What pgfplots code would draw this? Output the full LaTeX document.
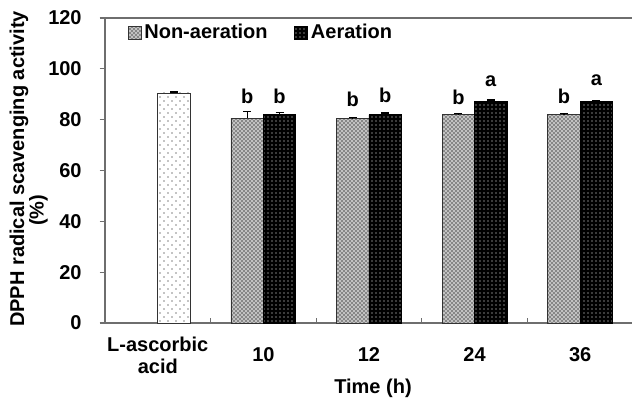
\documentclass[border=0pt]{standalone}
\usepackage{fontspec}
\setmainfont{Liberation Sans}
\usepackage{pgfplots}
\pgfplotsset{compat=1.18}
\usepackage{pgfplotstable}
\usetikzlibrary{patterns}
\pgfdeclarepatternformonly{sparse dots}{\pgfqpoint{-1pt}{-1pt}}{\pgfqpoint{7pt}{7pt}}{\pgfqpoint{6pt}{6pt}}{%
  \pgfpathcircle{\pgfqpoint{0pt}{0pt}}{0.55pt}%
  \pgfpathcircle{\pgfqpoint{3pt}{3pt}}{0.55pt}%
  \pgfusepath{fill}}
\pgfdeclarepatternformonly{checker dots}{\pgfqpoint{-1pt}{-1pt}}{\pgfqpoint{4pt}{4pt}}{\pgfqpoint{3pt}{3pt}}{%
  \pgfpathcircle{\pgfqpoint{0pt}{0pt}}{0.7pt}%
  \pgfpathcircle{\pgfqpoint{1.5pt}{1.5pt}}{0.7pt}%
  \pgfusepath{fill}}
\definecolor{axgray}{RGB}{110,110,110}
\definecolor{checkgray}{RGB}{135,135,135}

\pgfplotstableread{
x y e
0 90.5 0.4
}\ascorbic
\pgfplotstableread{
x y e
1 80.6 2.6
2 80.4 0.6
3 82.0 0.5
4 82.0 0.5
}\nonaer
\pgfplotstableread{
x y e
1 82.1 0.8
2 82.0 0.6
3 87.1 0.6
4 87.0 0.5
}\aer

\begin{document}
\begin{tikzpicture}[font=\fontsize{15}{16.5}\selectfont\bfseries]
\useasboundingbox (-78.75pt,-58.5pt) rectangle (395.25pt,242.25pt);
\begin{axis}[
  at={(0,0)}, anchor=south west,
  scale only axis,
  width=396pt, height=228.75pt,
  xmin=-0.5, xmax=4.5,
  ymin=0, ymax=120,
  axis x line*=box, axis y line*=left,
  axis line style={draw=axgray, line width=0.9pt},
  ytick={0,20,...,120},
  ytick pos=left,
  ytick style={draw=axgray, line width=0.9pt},
  tick align=outside,
  major tick length=4pt,
  yticklabel style={anchor=east, xshift=-10pt},
  /pgf/number format/assume math mode=true,
  xtick={0,1,2,3,4},
  xticklabels={L-ascorbic\\acid,10,12,24,36},
  xtick pos=bottom,
  xticklabel style={align=center, anchor=center, yshift=-20pt},
  x tick style={draw=none},
  extra x ticks={0.5,1.5,2.5,3.5},
  extra x tick labels={},
  extra x tick style={tick align=inside, x tick style={draw=axgray, line width=0.9pt}, major tick length=4pt},
  xlabel={Time (h)},
  xlabel style={at={(axis description cs:0.5,0)}, anchor=center, yshift=-48.75pt, xshift=3pt},
  ylabel={DPPH radical scavenging activity},
  ylabel style={at={([xshift=-64.5pt]axis description cs:0,0.505)}, anchor=center},
  clip=false,
  ybar,
  bar width=0.307,
  legend style={at={(axis description cs:0.035,0.952)}, anchor=west, draw=none, fill=none,
    legend columns=2, /tikz/every even column/.append style={column sep=18pt},
    nodes={inner sep=2pt}},
  legend cell align=left,
  legend image code/.code={\draw[#1] (0pt,-4.9pt) rectangle (9.75pt,4.9pt);},
  error bars/error bar style={line width=0.9pt, draw=black},
]
\addplot[forget plot, draw=black!80, line width=0.7pt, fill=white, postaction={pattern=sparse dots}, bar shift=0.1535,
  error bars/.cd, y dir=plus, y explicit, error mark options={rotate=90, mark size=3pt, line width=0.9pt}]
  table[x=x, y=y, y error=e] {\ascorbic};
\addplot[draw=black!80, line width=0.7pt, fill=checkgray, postaction={pattern=checker dots, pattern color=white}, bar shift=-0.1535,
  error bars/.cd, y dir=plus, y explicit, error mark options={rotate=90, mark size=3pt, line width=0.9pt}]
  table[x=x, y=y, y error=e] {\nonaer};
\addlegendentry{Non-aeration}
\addplot[draw=black, line width=0.7pt, fill=black, postaction={pattern=dots, pattern color=white}, bar shift=0.1535,
  error bars/.cd, y dir=plus, y explicit, error mark options={rotate=90, mark size=3pt, line width=0.9pt}]
  table[x=x, y=y, y error=e] {\aer};
\addlegendentry{Aeration}
\node[anchor=base] at (axis cs:0.8465,86.5) {b};
\node[anchor=base] at (axis cs:1.1535,86.2) {b};
\node[anchor=base] at (axis cs:1.8465,85.0) {b};
\node[anchor=base] at (axis cs:2.1535,86.7) {b};
\node[anchor=base] at (axis cs:2.8465,86.0) {b};
\node[anchor=base] at (axis cs:3.1535,93.2) {a};
\node[anchor=base] at (axis cs:3.8465,86.2) {b};
\node[anchor=base] at (axis cs:4.1535,93.6) {a};
\node[rotate=90, anchor=center] at ([xshift=-49.9pt]axis description cs:0,0.37) {(\%)};
\end{axis}
\end{tikzpicture}
\end{document}
